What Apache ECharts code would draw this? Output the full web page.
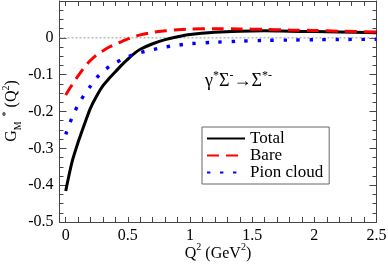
<!DOCTYPE html>
<html>
<head>
<meta charset="utf-8">
<script src="https://cdn.jsdelivr.net/npm/echarts@6/dist/echarts.min.js"></script>
<style>
html,body{margin:0;padding:0;background:#fff;}
#chart{width:388px;height:264px;}
</style>
</head>
<body>
<div id="chart"></div>
<script>
// Q^2 sample points (GeV^2)
var q2 = [0, 0.05, 0.1, 0.15, 0.2, 0.25, 0.3, 0.35, 0.4, 0.45, 0.5, 0.55, 0.6, 0.7, 0.8, 0.9, 1.0, 1.2, 1.4, 1.6, 1.8, 2.0, 2.2, 2.5];
var total = [-0.416, -0.338, -0.283, -0.235, -0.190, -0.157, -0.130, -0.110, -0.092, -0.074, -0.058, -0.043, -0.031, -0.016, -0.005, 0.003, 0.009, 0.015, 0.018, 0.019, 0.018, 0.017, 0.016, 0.014];
var bare = [-0.155, -0.128, -0.103, -0.080, -0.061, -0.046, -0.035, -0.025, -0.017, -0.010, -0.003, 0.003, 0.008, 0.015, 0.019, 0.022, 0.024, 0.025, 0.024, 0.023, 0.021, 0.020, 0.018, 0.016];
var pion = [-0.262, -0.217, -0.182, -0.154, -0.131, -0.108, -0.092, -0.078, -0.068, -0.059, -0.051, -0.045, -0.040, -0.032, -0.025, -0.020, -0.016, -0.012, -0.009, -0.007, -0.006, -0.005, -0.0045, -0.004];
var seriesNames = ['Total', 'Bare', 'Pion cloud'];
var zeroLine = [[-0.05, 0], [2.5, 0]];

var xLabels = [0, 0.5, 1, 1.5, 2, 2.5];
var xTicks = [0, 0.1, 0.2, 0.3, 0.4, 0.5, 0.6, 0.7, 0.8, 0.9, 1, 1.1, 1.2, 1.3, 1.4, 1.5, 1.6, 1.7, 1.8, 1.9, 2, 2.1, 2.2, 2.3, 2.4, 2.5];

function pairs(ys) { return q2.map(function (q, i) { return [q, ys[i]]; }); }

var chart = echarts.init(document.getElementById('chart'), null, { renderer: 'canvas' });
chart.setOption({
  animation: false,
  grid: { left: 59.5, right: 11.5, top: 1, bottom: 42, outerBoundsMode: 'none' },
  xAxis: [{
    type: 'value', min: -0.05, max: 2.5, position: 'bottom',
    axisLine: { show: true, onZero: false, lineStyle: { color: '#444', width: 1 } },
    axisTick: { show: true, inside: true, length: 5, customValues: xTicks, lineStyle: { color: '#444', width: 1 } },
    axisLabel: { customValues: xLabels, margin: 6, color: '#000', fontFamily: 'Times New Roman', fontSize: 16 },
    splitLine: { show: false }
  }, {
    type: 'value', min: -0.05, max: 2.5, position: 'top',
    axisLine: { show: true, onZero: false, lineStyle: { color: '#444', width: 1 } },
    axisTick: { show: true, inside: true, length: 5, customValues: xTicks, lineStyle: { color: '#444', width: 1 } },
    axisLabel: { show: false },
    splitLine: { show: false }
  }],
  yAxis: [{
    type: 'value', min: -0.5, max: 0.1, interval: 0.1, position: 'left',
    axisLine: { show: true, onZero: false, lineStyle: { color: '#444', width: 1 } },
    axisTick: { show: true, inside: true, length: 7, lineStyle: { color: '#444', width: 1 } },
    minorTick: { show: true, splitNumber: 4, length: 4, lineStyle: { color: '#444', width: 1 } },
    axisLabel: { margin: 6, color: '#000', fontFamily: 'Times New Roman', fontSize: 16,
      formatter: function (v) { return v > 0.05 ? '' : String(Math.round(v * 10) / 10); } },
    splitLine: { show: false }
  }, {
    type: 'value', min: -0.5, max: 0.1, interval: 0.1, position: 'right',
    axisLine: { show: true, onZero: false, lineStyle: { color: '#444', width: 1 } },
    axisTick: { show: true, inside: true, length: 7, lineStyle: { color: '#444', width: 1 } },
    minorTick: { show: true, splitNumber: 4, length: 4, lineStyle: { color: '#444', width: 1 } },
    axisLabel: { show: false },
    splitLine: { show: false }
  }],
  legend: {
    orient: 'vertical', left: 202, top: 127,
    padding: [3, 6, 3, 4],
    borderColor: '#666', borderWidth: 1, borderRadius: 0,
    backgroundColor: '#fff',
    itemWidth: 38, itemHeight: 10, itemGap: 0,
    itemStyle: { color: 'transparent', borderWidth: 0, opacity: 0 },
    textStyle: { fontFamily: 'Times New Roman', fontSize: 17, color: '#000', lineHeight: 15 },
    data: seriesNames
  },
  graphic: [{
    type: 'text', left: 205, top: 70,
    style: {
      text: '{a|γ}{s|*}{a|Σ}{s|-}{a|→Σ}{s|*-}',
      rich: {
        a: { font: '18px Times New Roman', fill: '#000', lineHeight: 20, verticalAlign: 'bottom' },
        s: { font: '12px Times New Roman', fill: '#000', lineHeight: 20, verticalAlign: 'top' }
      }
    }
  }, {
    type: 'text', x: 12, y: 111, rotation: Math.PI / 2,
    style: {
      text: '{a|G}{b|M}{s|  *}{a| (Q}{s|2}{a|)}', align: 'center', verticalAlign: 'middle',
      rich: {
        a: { font: '16px Times New Roman', fill: '#000', lineHeight: 22, verticalAlign: 'middle' },
        b: { font: '10px Times New Roman', fill: '#000', lineHeight: 22, verticalAlign: 'bottom' },
        s: { font: '10px Times New Roman', fill: '#000', lineHeight: 22, verticalAlign: 'top' }
      }
    }
  }, {
    type: 'text', x: 218, y: 252,
    style: {
      text: '{a|Q}{s|2}{a| (GeV}{s|2}{a|)}', align: 'center', verticalAlign: 'middle',
      rich: {
        a: { font: '16px Times New Roman', fill: '#000', lineHeight: 20, verticalAlign: 'bottom' },
        s: { font: '10px Times New Roman', fill: '#000', lineHeight: 20, verticalAlign: 'top' }
      }
    }
  }],
  series: [
    {
      name: 'zero', type: 'line', data: zeroLine, showSymbol: false, symbol: 'none', silent: true,
      lineStyle: { color: '#999', width: 1, type: [2, 2] }
    },
    {
      name: seriesNames[0], type: 'line', data: pairs(total),
      smooth: 0.3, showSymbol: false, symbol: 'none',
      lineStyle: { color: '#000', width: 3 }, itemStyle: { color: '#000' }
    },
    {
      name: seriesNames[1], type: 'line', data: pairs(bare),
      smooth: 0.3, showSymbol: false, symbol: 'none',
      lineStyle: { color: '#ff0000', width: 3, type: [12, 7] }, itemStyle: { color: '#ff0000' }
    },
    {
      name: seriesNames[2], type: 'line', data: pairs(pion),
      smooth: 0.3, showSymbol: false, symbol: 'none',
      lineStyle: { color: '#0000ff', width: 3.4, type: [3.4, 9.6] }, itemStyle: { color: '#0000ff' }
    }
  ]
});
</script>
</body>
</html>
